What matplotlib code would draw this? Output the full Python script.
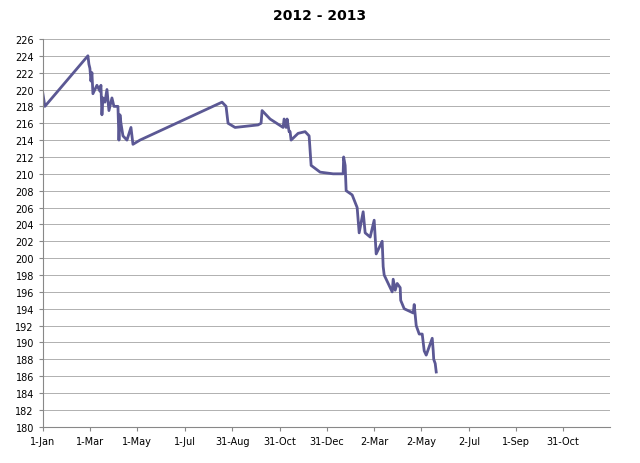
import matplotlib
matplotlib.use("Agg")
import matplotlib.pyplot as plt
import numpy as np
import datetime as dt

# pixel-read x positions converted to days since 1-Jan-2012
px = [43,45,88,89,90,91,92,93,97,100,101,102,103,105,107,109,112,114,118,119,120,121,123,127,131,133,140,222,226,228,235,258,261,262,270,283,284,286,287,289,290,291,298,305,309,311,320,333,343,343.5,345,346,352,357,359,363,365,370,374,376,382,383,384,388,392,393,395,397,400,400.5,404,413,414,416,419,422,424,426,432,433,433.5,435,436]
values = [219.5,218,224,223,222.5,221,222,219.5,220.5,219.8,220.5,217,219,218.5,220,217.5,219,218,218,214,217,216,214.5,214,215.5,213.5,214,218.5,218,216,215.5,215.8,216,217.5,216.5,215.5,216.5,215.5,216.5,215,215,214,214.8,215,214.5,211,210.2,210,210,212,211,208,207.5,206,203,205.5,203,202.5,204.5,200.5,202,199,198,197,196,197.5,196.2,197,196.5,195,194,193.5,194.5,192,191,191,189,188.5,190.5,189,188,187.5,186.5]
days = [(p - 43) * 1.285 for p in px]

start = dt.datetime(2012, 1, 1)
dates = [start + dt.timedelta(days=d) for d in days]
tick_days = [0, 60, 121, 182, 243, 304, 365, 425, 486, 547, 608, 668]
tick_labels = ["1-Jan","1-Mar","1-May","1-Jul","31-Aug","31-Oct","31-Dec","2-Mar","2-May","2-Jul","1-Sep","31-Oct"]

fig = plt.figure(figsize=(6.4, 4.64), dpi=100)
ax = fig.add_axes([0.067, 0.078, 0.886, 0.836])
ax.plot(dates, values, color="#5b5894", lw=2)
ax.set_xlim(start, start + dt.timedelta(days=728))
ax.set_ylim(180, 226)
ax.set_yticks(np.arange(180, 227, 2))
ax.set_xticks([start + dt.timedelta(days=d) for d in tick_days])
ax.set_xticklabels(tick_labels)
ax.tick_params(labelsize=7, length=3, color="#888888")
ax.yaxis.grid(True, color="#b0b0b0", lw=0.7)
ax.set_axisbelow(True)
for s in ["top", "right"]:
    ax.spines[s].set_visible(False)
for s in ["left", "bottom"]:
    ax.spines[s].set_color("#888888")
fig.suptitle("2012 - 2013", fontsize=10, fontweight="bold", y=0.98)
fig.savefig("out.png")
